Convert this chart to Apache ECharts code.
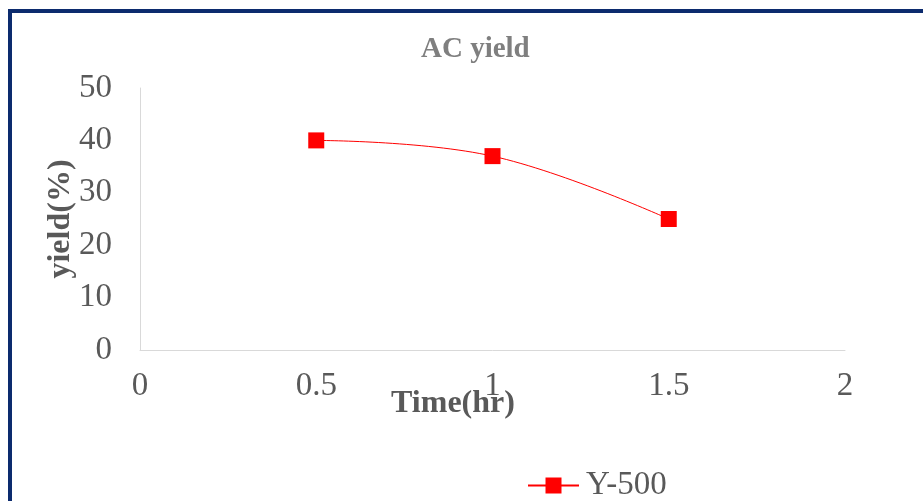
<!DOCTYPE html>
<html>
<head>
<meta charset="utf-8">
<title>AC yield</title>
<script src="https://cdn.jsdelivr.net/npm/echarts@6/dist/echarts.min.js"></script>
<style>
  html, body { margin: 0; padding: 0; background: #ffffff; }
  #chart { width: 923px; height: 501px; }
</style>
</head>
<body>
<div id="chart"></div>
<script>
// Reaction time (hr) and activated-carbon yield (%)
const times = [0.5, 1, 1.5];
const yieldY500 = [40, 37, 25];
const seriesName = 'Y-500';

const serif = '"Liberation Serif", "Times New Roman", serif';
const textGrey = '#595959';
const axisGrey = '#d9d9d9';

const chart = echarts.init(document.getElementById('chart'), null, { renderer: 'canvas' });

chart.setOption({
  backgroundColor: '#ffffff',
  animation: false,
  graphic: [{
    type: 'rect',
    shape: { x: 10, y: 11, width: 1000, height: 1000 },
    style: { fill: 'none', stroke: '#0c2b6e', lineWidth: 4 },
    silent: true
  }],
  title: {
    text: 'AC yield',
    left: 416,
    top: 30,
    textStyle: { fontFamily: serif, fontSize: 29, fontWeight: 'bold', color: '#7f7f7f' }
  },
  grid: { left: 140, right: 78, top: 88, bottom: 151, containLabel: false },
  xAxis: {
    type: 'value',
    min: 0, max: 2, interval: 0.5,
    name: 'Time(hr)',
    nameLocation: 'middle',
    nameGap: 38,
    nameMoveOverlap: false,
    nameTextStyle: { fontFamily: serif, fontSize: 32, fontWeight: 'bold', color: textGrey, padding: [0, 79, 0, 0] },
    axisLine: { show: true, lineStyle: { color: axisGrey, width: 1 } },
    axisTick: { show: false },
    splitLine: { show: false },
    axisLabel: { fontFamily: serif, fontSize: 33, color: textGrey, margin: 20 }
  },
  yAxis: {
    type: 'value',
    min: 0, max: 50, interval: 10,
    name: 'yield(%)',
    nameLocation: 'middle',
    nameGap: 63,
    nameMoveOverlap: false,
    nameTextStyle: { fontFamily: serif, fontSize: 32, fontWeight: 'bold', color: textGrey },
    axisLine: { show: true, lineStyle: { color: axisGrey, width: 1 } },
    axisTick: { show: false },
    splitLine: { show: false },
    axisLabel: { fontFamily: serif, fontSize: 33, color: textGrey, margin: 28 }
  },
  legend: {
    left: 527,
    top: 469,
    padding: 0,
    itemWidth: 51,
    itemHeight: 20,
    itemGap: 6,
    textStyle: { fontFamily: serif, fontSize: 33, color: textGrey, padding: [0, 0, 0, 2] },
    data: [seriesName]
  },
  series: [{
    name: seriesName,
    type: 'line',
    data: times.map((t, i) => [t, yieldY500[i]]),
    smooth: 0.4,
    symbol: 'rect',
    symbolSize: 16,
    itemStyle: { color: '#ff0000' },
    lineStyle: { color: '#ff0000', width: 1 }
  }]
});
</script>
</body>
</html>
